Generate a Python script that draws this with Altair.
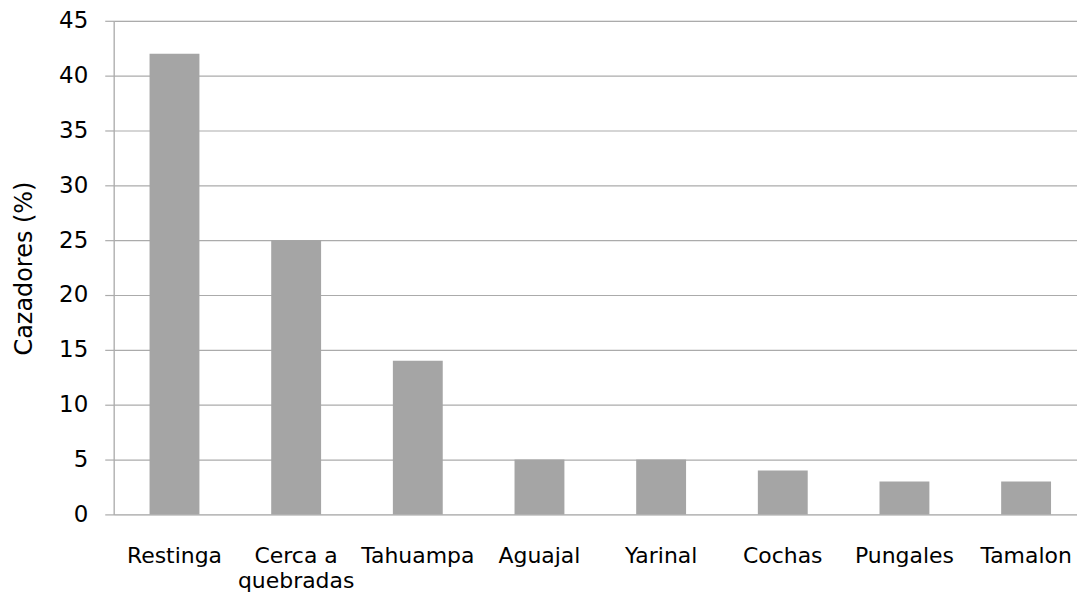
import altair as alt
import pandas as pd

categories = ["Restinga", "Cerca a quebradas", "Tahuampa", "Aguajal", "Yarinal", "Cochas", "Pungales", "Tamalon"]
values = [42, 25, 14, 5, 5, 4, 3, 3]
y_ticks = [0, 5, 10, 15, 20, 25, 30, 35, 40, 45]

df = pd.DataFrame({"cat": categories, "val": values})

FONT = "DejaVu Sans"
GRID = "#ababab"

chart = alt.Chart(df).mark_bar(color="#a5a5a5").encode(
    x=alt.X("cat:N", sort=categories, title=None,
            scale=alt.Scale(paddingInner=0.59, paddingOuter=0.254, align=0.58),
            axis=alt.Axis(labelAngle=0, ticks=False, domain=False, grid=False,
                          labelFont=FONT, labelFontSize=22, labelColor="#000000",
                          labelPadding=31, labelLineHeight=25, labelBaseline="top",
                          labelExpr="datum.value == 'Cerca a quebradas' ? ['Cerca a', 'quebradas'] : datum.value")),
    y=alt.Y("val:Q", title="Cazadores (%)",
            scale=alt.Scale(domain=[0, 45], nice=False),
            axis=alt.Axis(values=y_ticks, grid=True, gridColor=GRID, gridWidth=1.2,
                          domain=True, domainColor=GRID, domainWidth=1.2,
                          ticks=True, tickSize=9, tickColor=GRID, tickWidth=1.2,
                          labelFont=FONT, labelFontSize=23, labelColor="#000000",
                          labelPadding=17,
                          titleFont=FONT, titleFontSize=24, titleFontWeight="normal",
                          titleColor="#000000", titleX=-89, titleY=248,
                          titleAlign="center", titleBaseline="middle", titleAngle=270)),
).properties(
    width=966, height=495,
    autosize=alt.AutoSizeParams(type="none"),
    padding={"left": 106, "top": 12, "right": 0, "bottom": 80},
).configure_view(stroke=None).configure(background="white")

chart.save("out.html", embed_options={"renderer": "svg", "actions": False})
